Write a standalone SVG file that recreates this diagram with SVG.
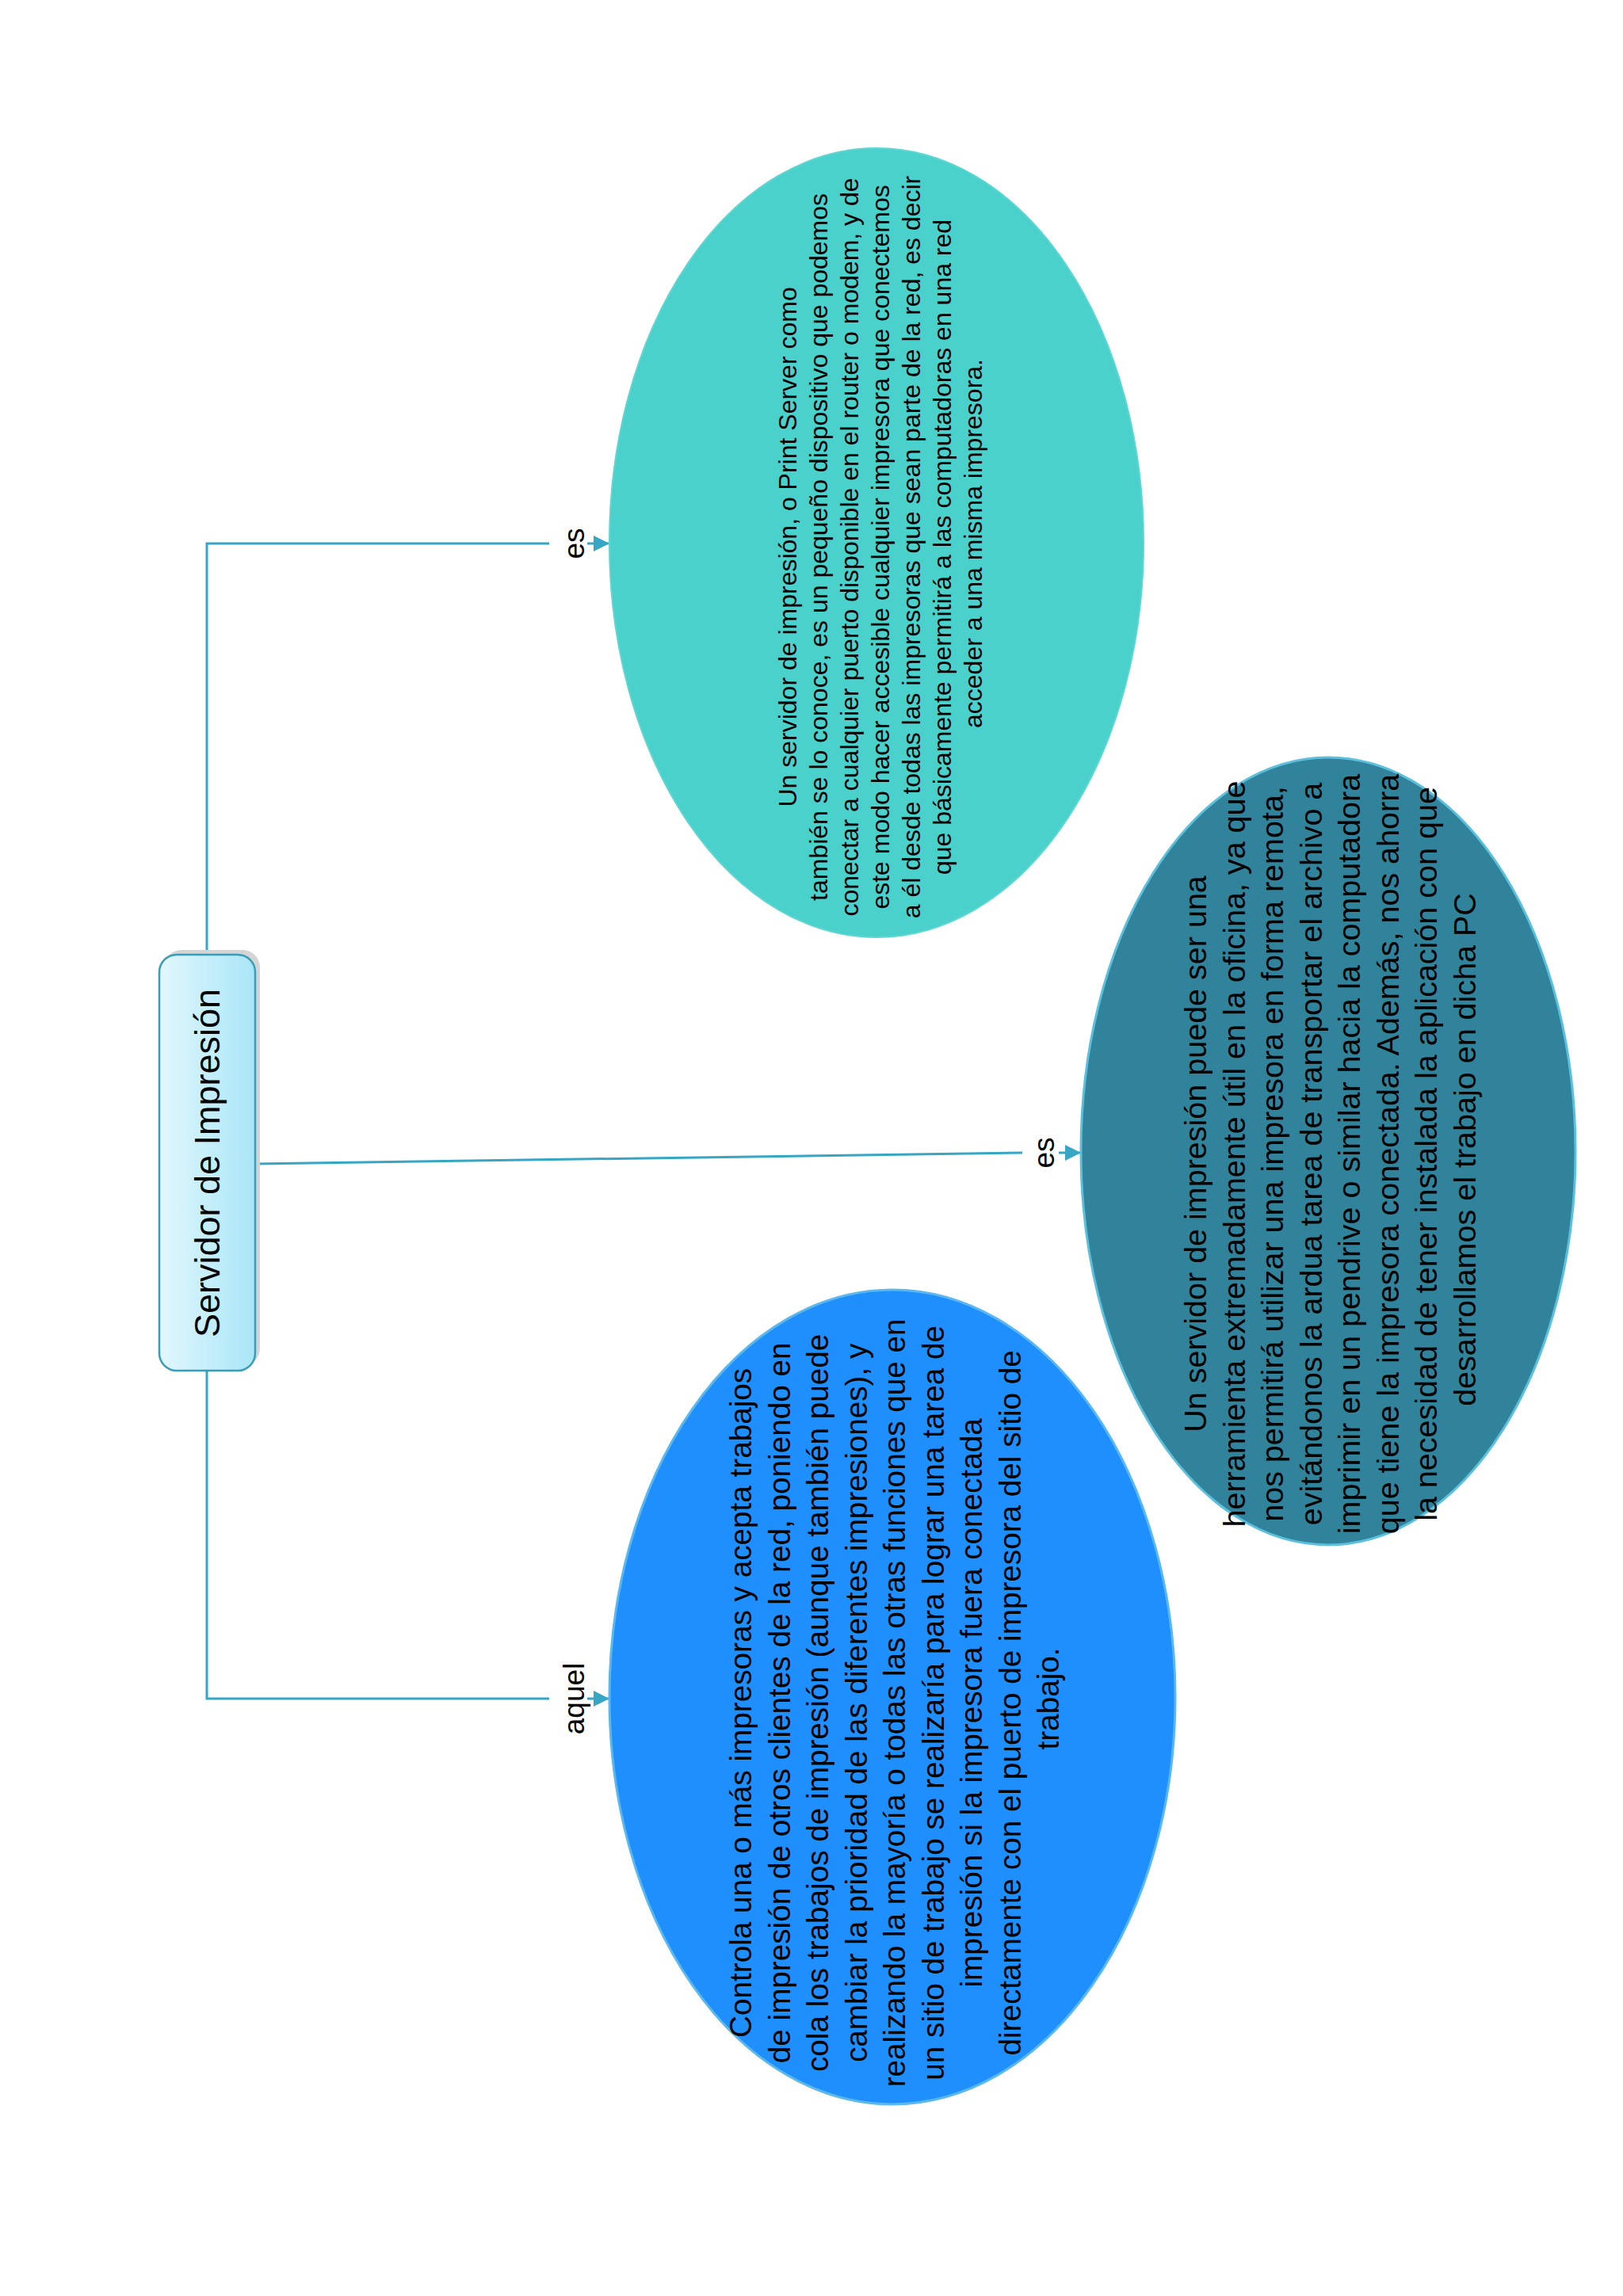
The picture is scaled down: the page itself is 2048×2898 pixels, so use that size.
<svg xmlns="http://www.w3.org/2000/svg" width="2048" height="2898" viewBox="0 0 2048 2898">
<defs>
<style>
.t{font-family:"Liberation Sans",Arial,sans-serif;fill:#000;text-anchor:middle}
.con{fill:none;stroke:#36a6c4;stroke-width:3}
.lbl{font-family:"Liberation Sans",Arial,sans-serif;font-size:37px;fill:#000;text-anchor:middle}
</style>
<linearGradient id="boxg" x1="0" y1="0" x2="1" y2="0">
<stop offset="0" stop-color="#e2f7fd"/>
<stop offset="1" stop-color="#a9e6f8"/>
</linearGradient>
<marker id="ah" viewBox="0 0 10 10" refX="10" refY="5" markerWidth="26" markerHeight="20" markerUnits="userSpaceOnUse" orient="auto">
<path d="M0,0 L10,5 L0,10 z" fill="#36a6c4"/>
</marker>
</defs>
<rect width="2048" height="2898" fill="#ffffff"/>
<g id="connectors">
<polyline class="con" points="261,1205 261,686 693,686"/>
<line class="con" x1="741" y1="686" x2="769" y2="686" marker-end="url(#ah)"/>
<text class="lbl" transform="translate(737,686) rotate(-90)">es</text>
<line class="con" x1="322" y1="1469" x2="1290" y2="1455"/>
<line class="con" x1="1336" y1="1455" x2="1364" y2="1455" marker-end="url(#ah)"/>
<text class="lbl" transform="translate(1330,1455) rotate(-90)">es</text>
<polyline class="con" points="261,1730 261,2144 693,2144"/>
<line class="con" x1="741" y1="2144" x2="769" y2="2144" marker-end="url(#ah)"/>
<text class="lbl" transform="translate(737,2144) rotate(-90)">aquel</text>
</g>
<g id="central">
<rect x="207" y="1199" width="121" height="525" rx="22" fill="#d4d4d4"/>
<rect x="201" y="1205" width="121" height="525" rx="22" fill="url(#boxg)" stroke="#3a9cb8" stroke-width="2.5"/>
<text class="t" font-size="45" transform="translate(277,1468) rotate(-90)">Servidor de Impresión</text>
</g>
<g id="node-es1">
<ellipse cx="1106" cy="685" rx="337" ry="498" fill="#4bd1cc" stroke="#5fd6d2" stroke-width="2"/>
<text class="t" font-size="32" transform="translate(1111,686) rotate(-90)">
<tspan x="0" y="-106">Un servidor de impresión, o Print Server como</tspan>
<tspan x="0" y="-67">también se lo conoce, es un pequeño dispositivo que podemos</tspan>
<tspan x="0" y="-28">conectar a cualquier puerto disponible en el router o modem, y de</tspan>
<tspan x="0" y="11">este modo hacer accesible cualquier impresora que conectemos</tspan>
<tspan x="0" y="50">a él desde todas las impresoras que sean parte de la red, es decir</tspan>
<tspan x="0" y="89">que básicamente permitirá a las computadoras en una red</tspan>
<tspan x="0" y="128">acceder a una misma impresora.</tspan>
</text>
</g>
<g id="node-es2">
<ellipse cx="1676" cy="1453" rx="312" ry="497" fill="#31839b" stroke="#5cc0dc" stroke-width="3"/>
<text class="t" font-size="39.5" transform="translate(1678,1451) rotate(-90)">
<tspan x="0" y="-156">Un servidor de impresión puede ser una</tspan>
<tspan x="0" y="-107">herramienta extremadamente útil en la oficina, ya que</tspan>
<tspan x="0" y="-59">nos permitirá utilizar una impresora en forma remota,</tspan>
<tspan x="0" y="-10">evitándonos la ardua tarea de transportar el archivo a</tspan>
<tspan x="0" y="38">imprimir en un pendrive o similar hacia la computadora</tspan>
<tspan x="0" y="87">que tiene la impresora conectada. Además, nos ahorra</tspan>
<tspan x="0" y="135">la necesidad de tener instalada la aplicación con que</tspan>
<tspan x="0" y="184">desarrollamos el trabajo en dicha PC</tspan>
</text>
</g>
<g id="node-aquel">
<ellipse cx="1126" cy="2142" rx="357" ry="514" fill="#1e8ffd" stroke="#5ab8ee" stroke-width="3"/>
<text class="t" font-size="38.7" transform="translate(1128,2144) rotate(-90)">
<tspan x="0" y="-180">Controla una o más impresoras y acepta trabajos</tspan>
<tspan x="0" y="-131">de impresión de otros clientes de la red, poniendo en</tspan>
<tspan x="0" y="-83">cola los trabajos de impresión (aunque también puede</tspan>
<tspan x="0" y="-34">cambiar la prioridad de las diferentes impresiones), y</tspan>
<tspan x="0" y="14">realizando la mayoría o todas las otras funciones que en</tspan>
<tspan x="0" y="63">un sitio de trabajo se realizaría para lograr una tarea de</tspan>
<tspan x="0" y="111">impresión si la impresora fuera conectada</tspan>
<tspan x="0" y="160">directamente con el puerto de impresora del sitio de</tspan>
<tspan x="0" y="208">trabajo.</tspan>
</text>
</g>
</svg>
